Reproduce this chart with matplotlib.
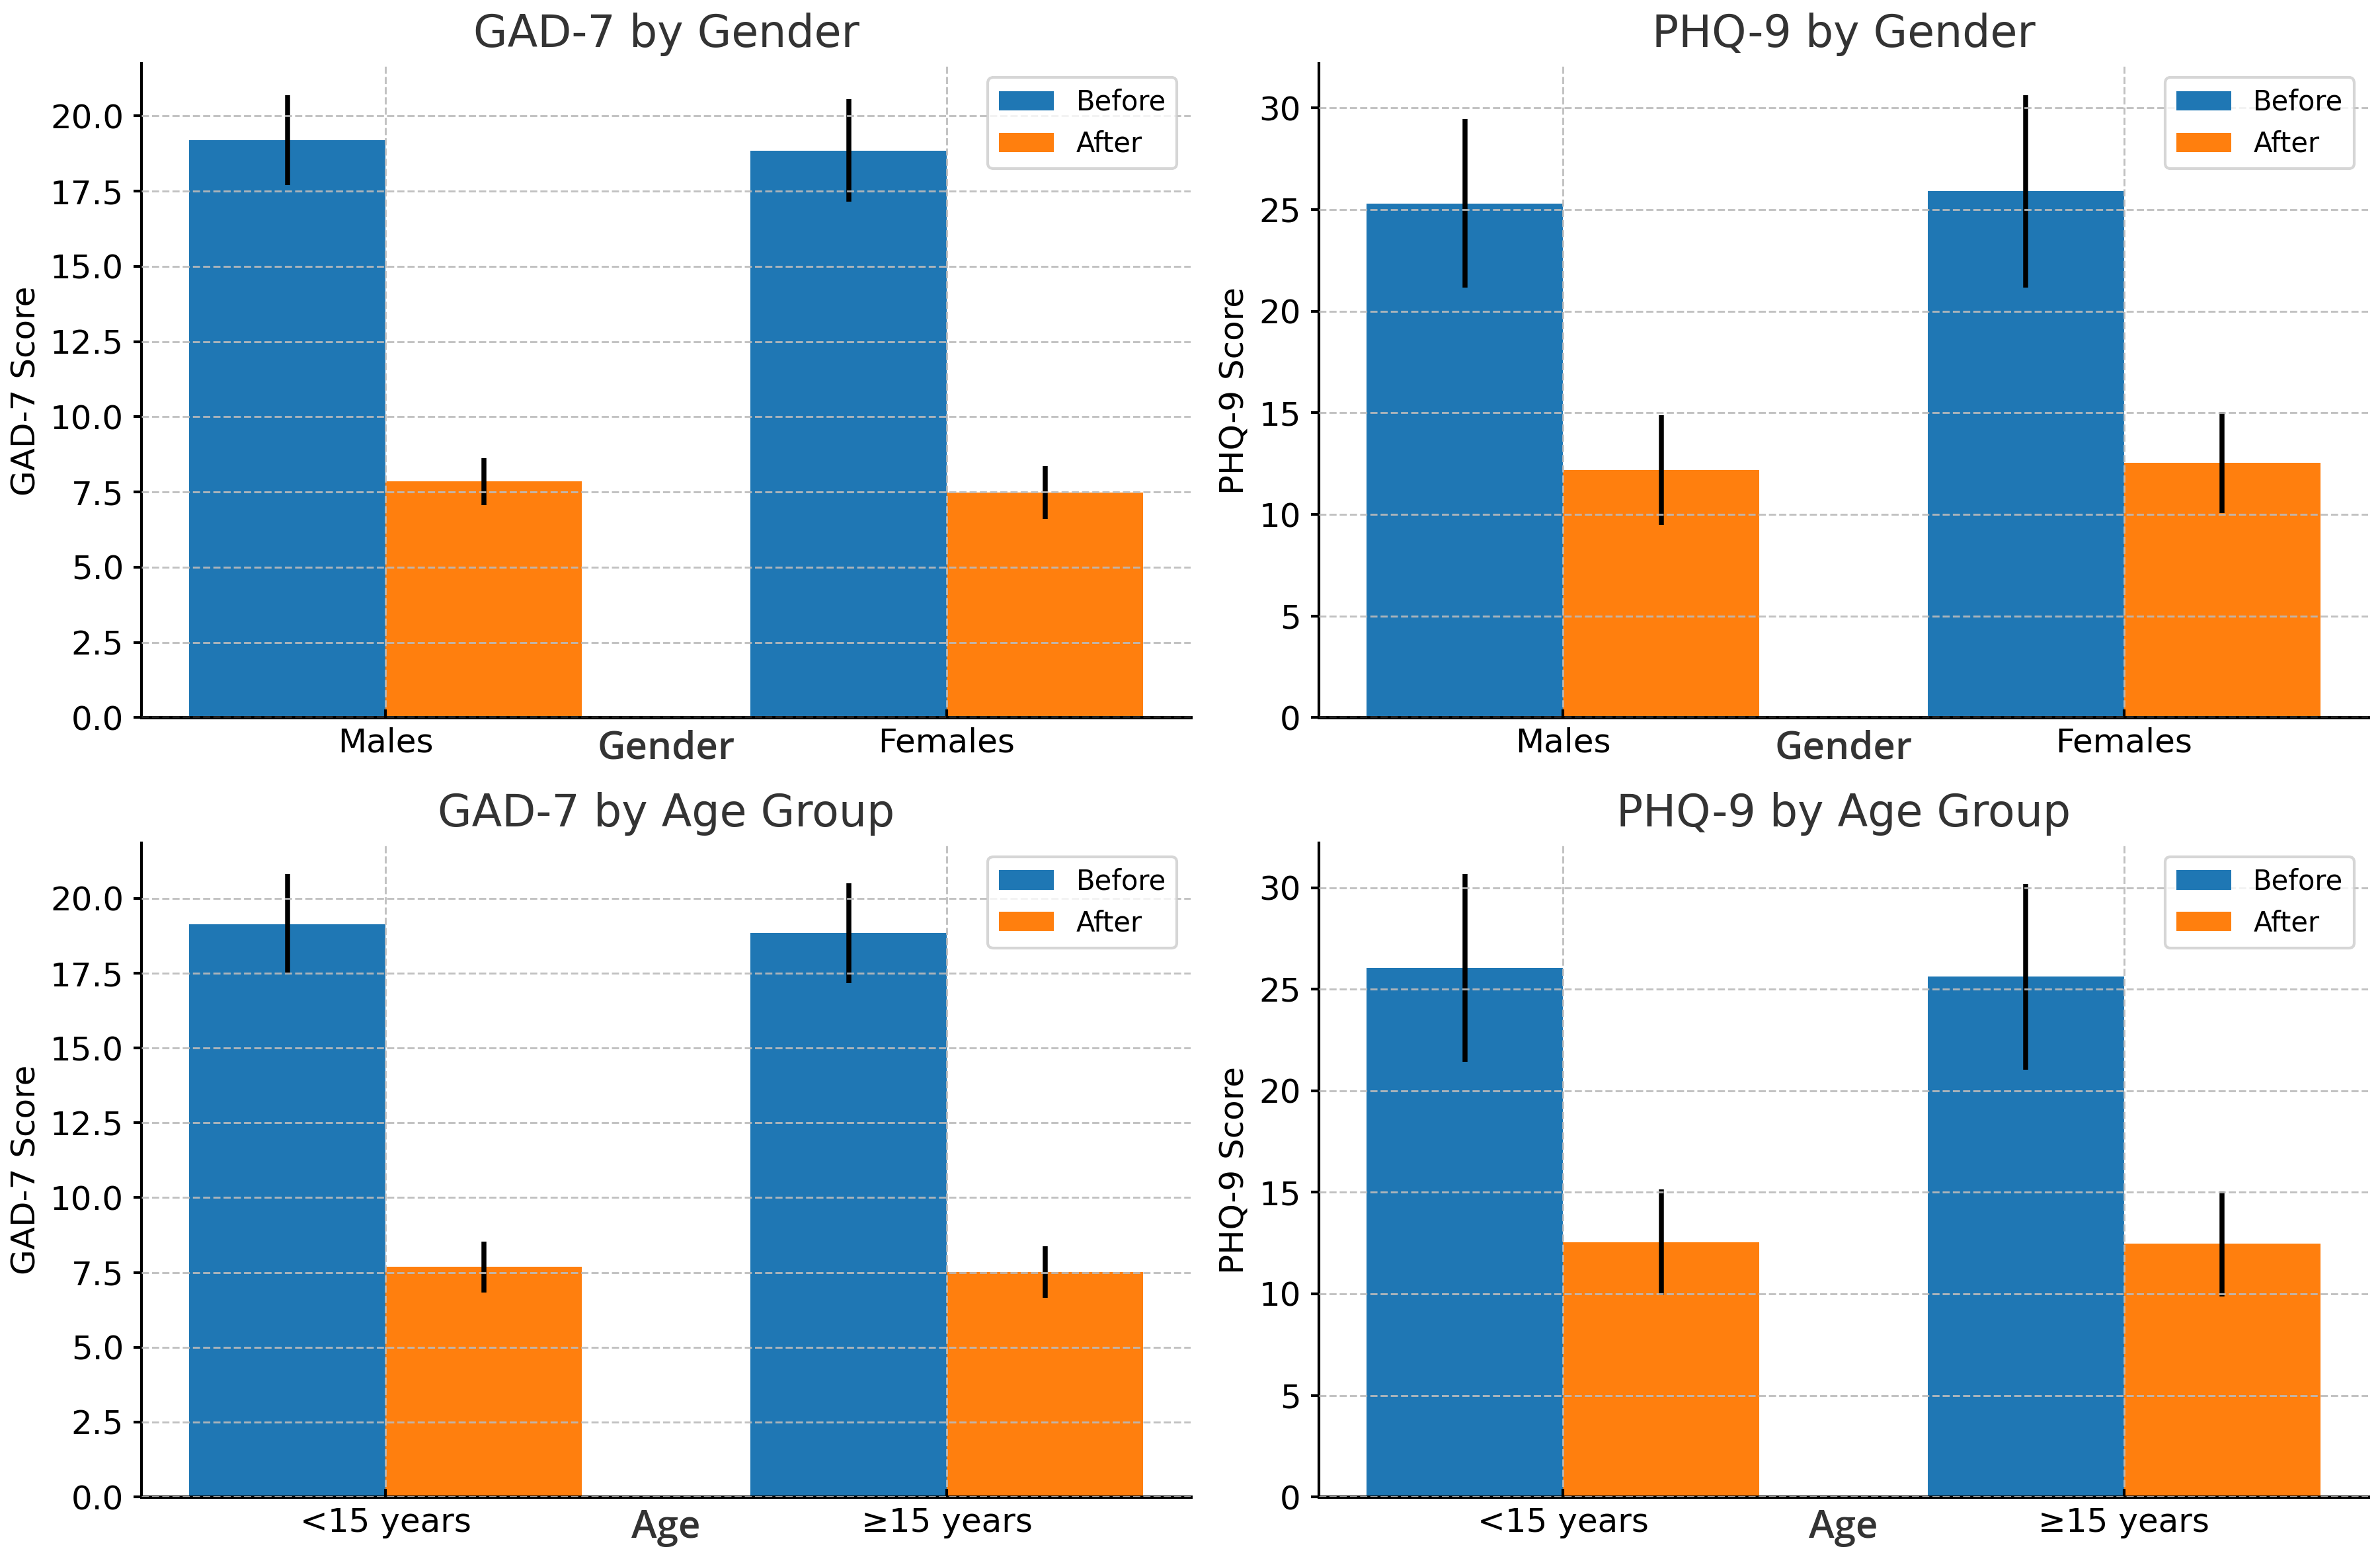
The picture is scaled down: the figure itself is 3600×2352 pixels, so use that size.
import matplotlib
matplotlib.use("Agg")
import matplotlib.pyplot as plt
import numpy as np

# ---- data ----
gender_groups = ["Males", "Females"]
age_groups = ["<15 years", "≥15 years"]
series_labels = ["Before", "After"]

gad_gender_before = [19.2, 18.85]
gad_gender_before_err = [1.5, 1.7]
gad_gender_after = [7.85, 7.48]
gad_gender_after_err = [0.78, 0.88]

phq_gender_before = [25.3, 25.9]
phq_gender_before_err = [4.15, 4.75]
phq_gender_after = [12.18, 12.55]
phq_gender_after_err = [2.7, 2.5]

gad_age_before = [19.14, 18.84]
gad_age_before_err = [1.67, 1.67]
gad_age_after = [7.68, 7.52]
gad_age_after_err = [0.86, 0.86]

phq_age_before = [26.05, 25.62]
phq_age_before_err = [4.62, 4.58]
phq_age_after = [12.54, 12.46]
phq_age_after_err = [2.6, 2.6]

panels = [
    ("GAD-7 by Gender", "GAD-7 Score", "Gender", gender_groups,
     gad_gender_before, gad_gender_before_err, gad_gender_after, gad_gender_after_err),
    ("PHQ-9 by Gender", "PHQ-9 Score", "Gender", gender_groups,
     phq_gender_before, phq_gender_before_err, phq_gender_after, phq_gender_after_err),
    ("GAD-7 by Age Group", "GAD-7 Score", "Age", age_groups,
     gad_age_before, gad_age_before_err, gad_age_after, gad_age_after_err),
    ("PHQ-9 by Age Group", "PHQ-9 Score", "Age", age_groups,
     phq_age_before, phq_age_before_err, phq_age_after, phq_age_after_err),
]

plt.rcParams["font.family"] = ["DejaVu Sans"]

fig, axes = plt.subplots(2, 2, figsize=(12, 7.84), dpi=300)
fig.subplots_adjust(left=0.0595, right=0.995, top=0.959, bottom=0.0374,
                    wspace=0.122, hspace=0.192)

width = 0.35
for ax, (title, ylabel, xlabel, cats, b, be, a, ae) in zip(axes.flat, panels):
    x = np.arange(len(cats))
    ax.bar(x - width / 2, b, width, yerr=be, color="#1f77b4", label=series_labels[0],
           error_kw=dict(elinewidth=1.8, ecolor="black", capsize=0))
    ax.bar(x + width / 2, a, width, yerr=ae, color="#ff7f0e", label=series_labels[1],
           error_kw=dict(elinewidth=1.8, ecolor="black", capsize=0))
    ax.set_xticks(x)
    ax.set_xticklabels(cats, fontsize=12)
    ax.tick_params(axis="y", labelsize=12, length=3, width=1)
    ax.tick_params(axis="x", length=3, width=1, direction="in")
    ax.set_title(title, fontsize=16, color="#333333")
    ax.set_ylabel(ylabel, fontsize=12, labelpad=3)
    ax.set_xlabel(xlabel, fontsize=14, color="#333333",
                  family=["Open Sans", "DejaVu Sans"], fontweight="semibold")
    ax.xaxis.set_label_coords(0.5, -0.018)
    ax.spines["top"].set_visible(False)
    ax.spines["right"].set_visible(False)
    ax.spines["left"].set_linewidth(1.0)
    ax.spines["bottom"].set_linewidth(1.2)
    ax.set_axisbelow(False)
    ax.grid(True, linestyle="--", color="#bbbbbb", linewidth=0.7, alpha=0.9)
    ax.legend(loc="upper right", fontsize=10)

fig.savefig("out.png", dpi=300)
